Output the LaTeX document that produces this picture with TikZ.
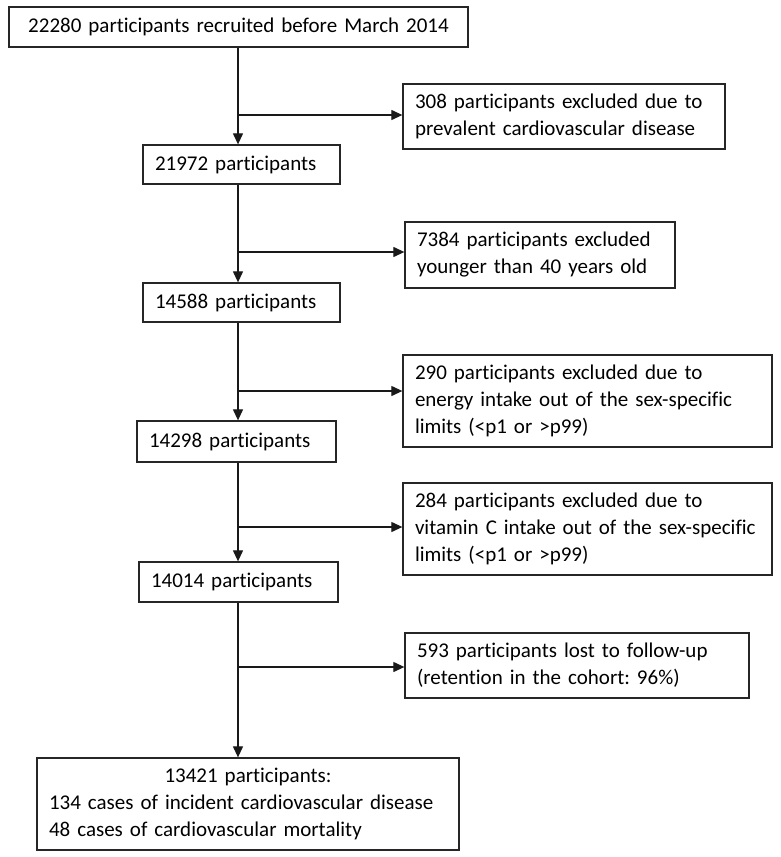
\documentclass[tikz,border=0pt]{standalone}
\usepackage{fontspec}
\setmainfont{Carlito}[Ligatures=NoCommon]
\frenchspacing
\usetikzlibrary{arrows}
\usetikzlibrary{arrows.meta}

\tikzset{
  box/.style={draw=black!85, line width=1.3pt, inner xsep=12pt, inner ysep=0pt,
    align=left, font=\fontsize{21}{27}\selectfont},
  arr/.style={draw=black!90, line width=1.2pt, -{Triangle[length=11pt,width=10pt]}},
}

\begin{document}
\begin{tikzpicture}[x=1pt,y=-1pt]

    % page frame, same size as the original figure
    \useasboundingbox (0,0) rectangle (780,857);

    % main column of the flow chart
    \node[box, align=center, text width=435pt, minimum height=40pt] (top) at (238.5,27)
      {22280 participants recruited before March 2014};
    \node[box, text width=173pt, minimum height=39pt] (b1) at (241.5,164.5) {21972 participants};
    \node[box, text width=173pt, minimum height=39pt] (b2) at (241.5,302.5) {14588 participants};
    \node[box, text width=175pt, minimum height=41pt] (b3) at (236.5,441.5) {14298 participants};
    \node[box, text width=175pt, minimum height=40pt] (b4) at (238.5,582) {14014 participants};
    \node[box, text width=398pt, minimum height=92pt] (res) at (248,804)
      {\makebox[398pt]{13421 participants:}\\
       134 cases of incident cardiovascular disease\\
       48 cases of cardiovascular mortality};

    % exclusion boxes on the right
    \node[box, text width=298pt, minimum height=65pt] (ex1) at (564,116.5)
      {308 participants excluded due to\\prevalent cardiovascular disease};
    \node[box, text width=246pt, minimum height=66pt] (ex2) at (540,255)
      {7384 participants excluded\\younger than 40 years old};
    \node[box, text width=345pt, minimum height=92pt] (ex3) at (587.5,401)
      {290 participants excluded due to\\\mbox{energy intake out of the sex-specific}\\limits (<p1 or >p99)};
    \node[box, text width=345pt, minimum height=92pt] (ex4) at (587.5,529)
      {284 participants excluded due to\\\mbox{vitamin C intake out of the sex-specific}\\limits (<p1 or >p99)};
    \node[box, text width=320pt, minimum height=65pt] (ex5) at (577,665.5)
      {593 participants lost to follow-up\\(retention in the cohort: 96\%)};

    % branch points on the trunk
    \coordinate (j1) at (238,115);
    \coordinate (j2) at (238,252);
    \coordinate (j3) at (238,391);
    \coordinate (j4) at (238,527);
    \coordinate (j5) at (238,667);

    % trunk arrows and side arrows
    \foreach \u/\v/\i in {top/b1/1, b1/b2/2, b2/b3/3, b3/b4/4, b4/res/5} {
      \draw[arr] (j\i |- \u.south) -- (j\i |- \v.north);
      \draw[arr] (j\i) -- (j\i -| ex\i.west);
    }

\end{tikzpicture}
\end{document}
